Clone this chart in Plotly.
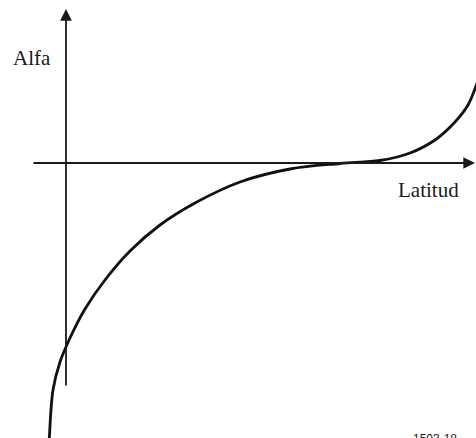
import plotly.graph_objects as go

# Schematic curve: Alfa as a function of Latitud (arbitrary units)
latitud = [-1.72, -1.67, -1.3, -0.6, 0.4, 1.9, 3.9, 6.4, 9.4, 12.9, 17.4, 22.4,
           27.4, 31.4, 34.4, 36.9, 38.9, 40.2, 41.0, 41.4]
alfa = [-28.2, -27.5, -22.7, -19.9, -17.5, -14.6, -11.7, -8.8, -6.2, -4.0, -1.9, -0.6,
        -0.05, 0.25, 1.0, 2.3, 4.1, 5.8, 7.7, 8.9]

labels = {"y": "Alfa", "x": "Latitud", "ref": "1503-18"}

XR = [-6.6, 41.0]
YR = [-27.5, 16.3]

fig = go.Figure()
fig.add_trace(go.Scatter(
    x=latitud, y=alfa, mode="lines",
    line=dict(color="#111111", width=2.8, shape="spline", smoothing=1.0),
    hoverinfo="skip", showlegend=False,
))

ink = "#1a1a1a"
# y axis arrow
fig.add_annotation(x=0, y=15.4, ax=0, ay=-22.4, xref="x", yref="y", axref="x", ayref="y",
                   showarrow=True, arrowhead=2, arrowsize=1.3, arrowwidth=1.8,
                   arrowcolor=ink, text="")
# x axis arrow
fig.add_annotation(x=40.9, y=0, ax=-3.4, ay=0, xref="x", yref="y", axref="x", ayref="y",
                   showarrow=True, arrowhead=2, arrowsize=1.3, arrowwidth=1.8,
                   arrowcolor=ink, text="")

serif = "Liberation Serif, Times New Roman, serif"
fig.add_annotation(x=-3.4, y=10.5, xref="x", yref="y", text=labels["y"], showarrow=False,
                   font=dict(family=serif, size=21, color=ink))
fig.add_annotation(x=36.2, y=-2.7, xref="x", yref="y", text=labels["x"], showarrow=False,
                   font=dict(family=serif, size=21, color=ink))
fig.add_annotation(x=36.9, y=-26.7, xref="x", yref="y", text=labels["ref"], showarrow=False,
                   yanchor="top", font=dict(family="Liberation Sans, Arial, sans-serif",
                                            size=12, color=ink))

fig.update_layout(
    width=476, height=438,
    margin=dict(l=0, r=0, t=0, b=0),
    paper_bgcolor="white", plot_bgcolor="white",
    xaxis=dict(range=XR, visible=False, fixedrange=True),
    yaxis=dict(range=YR, visible=False, fixedrange=True),
)

fig.write_html("out.html", config={"displayModeBar": False},
               post_script="document.body.style.margin='0';document.body.style.overflow='hidden';")
